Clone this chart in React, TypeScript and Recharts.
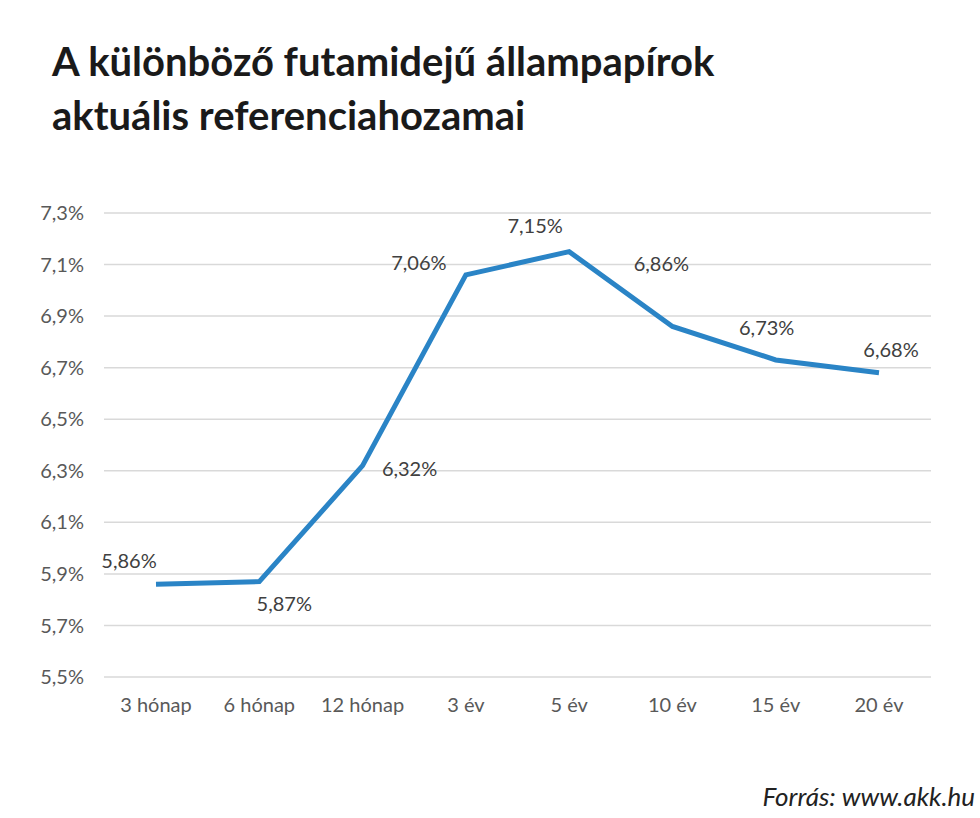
import React from "react";
import { LineChart, Line, XAxis, YAxis, CartesianGrid, LabelList } from "recharts";

const categories = ["3 hónap", "6 hónap", "12 hónap", "3 év", "5 év", "10 év", "15 év", "20 év"];
const yields = [5.86, 5.87, 6.32, 7.06, 7.15, 6.86, 6.73, 6.68];
const yTicks = [5.5, 5.7, 5.9, 6.1, 6.3, 6.5, 6.7, 6.9, 7.1, 7.3];

// label offsets (style only)
const labelOffsets: [number, number][] = [
  [-27, -24],
  [25, 21],
  [47, 2],
  [-47, -13],
  [-34, -27],
  [-11, -63],
  [-9, -33],
  [12, -24],
];

const data = categories.map((c, i) => ({ name: c, value: yields[i] }));

const fmt = (v: number) => v.toFixed(2).replace(".", ",") + "%";
const fmtTick = (v: number) => v.toFixed(1).replace(".", ",") + "%";

const FONT = "Lato, 'Open Sans', sans-serif";

const renderLabel = (props: any) => {
  const { x, y, index, value } = props;
  const [dx, dy] = labelOffsets[index] || [0, 0];
  return (
    <text
      x={x + dx}
      y={y + dy}
      textAnchor="middle"
      dominantBaseline="central"
      fontSize={20}
      fontFamily={FONT}
      fill="#404040"
    >
      {fmt(value)}
    </text>
  );
};

export default function App() {
  return (
    <div style={{ position: "absolute", left: 0, top: 0, width: 980, height: 818, background: "#fff" }}>
      <div
        style={{
          position: "absolute",
          left: 52,
          top: 34,
          fontFamily: FONT,
          fontWeight: 700,
          fontSize: 40,
          lineHeight: "54px",
          color: "#1a1a1a",
          whiteSpace: "nowrap",
        }}
      >
        A különböző futamidejű állampapírok
        <br />
        aktuális referenciahozamai
      </div>
      <LineChart
        width={980}
        height={818}
        data={data}
        margin={{ top: 213, right: 49, bottom: 0, left: 0 }}
      >
        <CartesianGrid vertical={false} stroke="#d9d9d9" strokeWidth={1.5} />
        <XAxis
          dataKey="name"
          axisLine={false}
          tickLine={false}
          tickMargin={15}
          padding={{ left: 52, right: 52 }}
          interval={0}
          tick={{ fontSize: 20, fontFamily: FONT, fill: "#595959" }}
          height={141}
        />
        <YAxis
          domain={[5.5, 7.3]}
          ticks={yTicks}
          tickFormatter={fmtTick}
          axisLine={false}
          tickLine={false}
          tickMargin={14}
          width={104}
          tick={{ fontSize: 20, fontFamily: FONT, fill: "#595959" }}
          interval={0}
        />
        <Line
          type="linear"
          dataKey="value"
          stroke="#2A84C6"
          strokeWidth={5}
          dot={false}
          isAnimationActive={false}
        >
          <LabelList dataKey="value" content={renderLabel} />
        </Line>
      </LineChart>
      <div
        style={{
          position: "absolute",
          right: 5,
          top: 780,
          fontFamily: FONT,
          fontStyle: "italic",
          fontSize: 26,
          color: "#222",
        }}
      >
        Forrás: www.akk.hu
      </div>
    </div>
  );
}
